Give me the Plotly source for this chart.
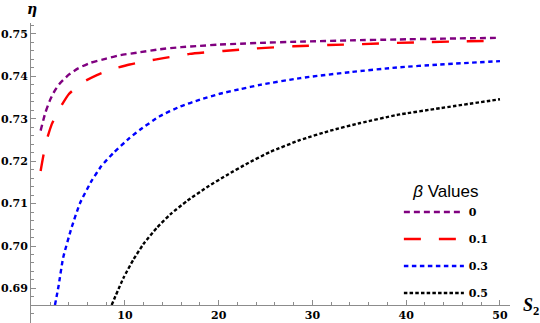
import plotly.graph_objects as go

# ---- data ----
beta_labels = ["0", "0.1", "0.3", "0.5"]

s2_b0 = [1, 1.5, 2, 2.5, 3, 4, 5, 6.3, 8, 9.5, 11.6, 13.7, 16, 18, 20, 22.3, 24.4, 28.7, 34, 39, 44, 50]
eta_b0 = [0.7272, 0.7314, 0.7344, 0.7366, 0.7382, 0.7404, 0.7419, 0.7432, 0.7442, 0.7450, 0.7457,
          0.7464, 0.7469, 0.7472, 0.7475, 0.7477, 0.7479, 0.7482, 0.7485, 0.7487, 0.7489, 0.7491]

s2_b1 = [1, 1.3, 1.65, 2.2, 3, 4, 5.5, 7, 8.75, 10.5, 12.3, 14.1, 16.9, 20.5, 24, 28, 31.7, 35.3, 39, 42.7, 46.4, 50]
eta_b1 = [0.7177, 0.7214, 0.7250, 0.7288, 0.7323, 0.7358, 0.7386, 0.7403, 0.7418, 0.7428, 0.7436,
          0.7443, 0.7453, 0.7460, 0.7466, 0.7471, 0.7474, 0.7476, 0.7479, 0.7481, 0.7483, 0.7484]

s2_b3 = [2.53, 2.9, 3.4, 4.3, 5.2, 6.45, 7.5, 8.75, 10.5, 11.6, 13.7, 15.9, 18, 20.1, 22.3, 24.4, 28.7, 34, 39, 43.6, 50]
eta_b3 = [0.6861, 0.6904, 0.6972, 0.7043, 0.7101, 0.7154, 0.7189, 0.7219, 0.7255, 0.7274, 0.7306,
          0.7329, 0.7345, 0.7359, 0.7370, 0.7380, 0.7396, 0.7410, 0.7421, 0.7428, 0.7436]

s2_b5 = [8.58, 9.82, 10.9, 11.95, 13.4, 14.8, 16.6, 18.7, 20.85, 23, 25.5, 28.7, 31.9, 35.1, 39, 43.6, 50]
eta_b5 = [0.6861, 0.6924, 0.6968, 0.7004, 0.7043, 0.7074, 0.7106, 0.7138, 0.7167, 0.7194, 0.7222,
          0.7250, 0.7272, 0.7290, 0.7309, 0.7325, 0.7346]

x_ticks = [10, 20, 30, 40, 50]
y_ticks = [0.69, 0.70, 0.71, 0.72, 0.73, 0.74, 0.75]
y_tick_text = ["0.69", "0.70", "0.71", "0.72", "0.73", "0.74", "0.75"]

series = [
    (s2_b0, eta_b0, "#800080", "6px,4px"),
    (s2_b1, eta_b1, "#ff0000", "17px,18px"),
    (s2_b3, eta_b3, "#0000ff", "4.5px,3.5px"),
    (s2_b5, eta_b5, "#000000", "3.5px,2.2px"),
]

fig = go.Figure()
for (xs, ys, col, dash), lab in zip(series, beta_labels):
    fig.add_trace(go.Scatter(
        x=xs, y=ys, mode="lines", name=lab, legendgroup=lab,
        line=dict(color=col, width=2.4, dash=dash, shape="spline", smoothing=0.5),
    ))

axis_col = "#8c8c8c"
tick_font = dict(family="DejaVu Serif", size=11, color="black", weight="bold")

fig.update_layout(
    width=540, height=323,
    margin=dict(l=31, r=30, t=23, b=0),
    paper_bgcolor="white", plot_bgcolor="white",
    showlegend=True,
    legend=dict(
        x=0.768, y=0.492, xanchor="left", yanchor="top",
        itemwidth=60, tracegroupgap=8,
        font=dict(family="DejaVu Serif", size=11, color="black", weight="bold"),
        title=dict(text="<i>β</i> Values", side="top center",
                   font=dict(family="Liberation Sans", size=17, color="black", weight="normal")),
        bgcolor="rgba(0,0,0,0)",
    ),
    xaxis=dict(
        range=[-0.0267, 51.07], anchor="free", position=0.06,
        showgrid=False, zeroline=False, showline=True, linecolor=axis_col, linewidth=1,
        tickmode="array", tickvals=x_ticks, ticks="inside", ticklen=5, tickcolor=axis_col,
        tickfont=tick_font,
        minor=dict(tickmode="linear", tick0=0, dtick=2, ticks="inside", ticklen=3, tickcolor=axis_col, showgrid=False),
    ),
    yaxis=dict(
        range=[0.68184, 0.75259],
        showgrid=False, zeroline=False, showline=True, linecolor=axis_col, linewidth=1,
        tickmode="array", tickvals=y_ticks, ticktext=y_tick_text,
        ticks="inside", ticklen=5, tickcolor=axis_col, tickfont=tick_font,
        minor=dict(tickmode="linear", tick0=0, dtick=0.002, ticks="inside", ticklen=3, tickcolor=axis_col, showgrid=False),
    ),
    annotations=[
        dict(text="<b><i>η</i></b>", x=0.002, y=1.048, xref="paper", yref="paper",
             xanchor="center", yanchor="middle",
             showarrow=False, font=dict(family="DejaVu Serif", size=14, color="black")),
        dict(text="<b><i>S</i><sub>2</sub></b>", x=1.044, y=0.055, xref="paper", yref="paper",
             xanchor="center", yanchor="middle",
             showarrow=False, font=dict(family="Liberation Serif", size=18, color="black")),
    ],
)

fig.write_html("out.html")
